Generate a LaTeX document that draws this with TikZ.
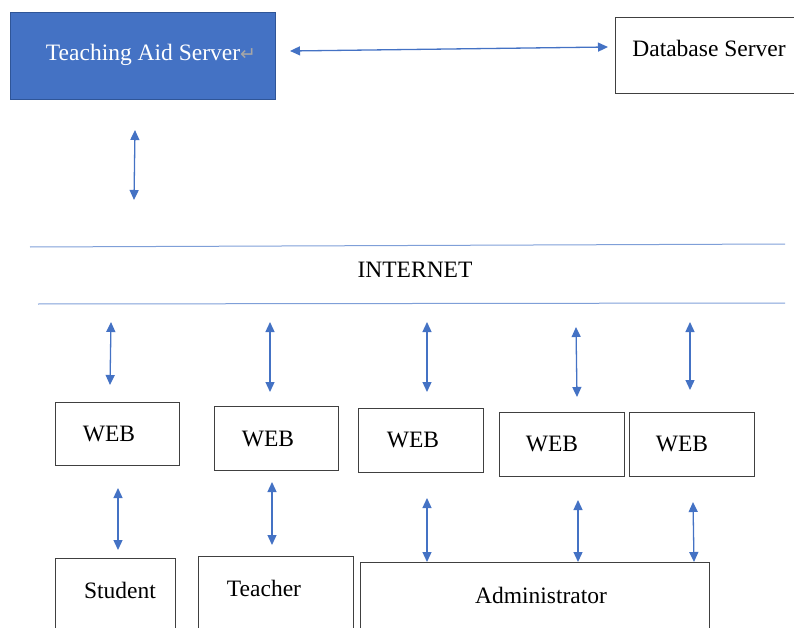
\documentclass[tikz,border=0pt]{standalone}
\usepackage{fontspec}
\usepackage{xcolor}
\usetikzlibrary{arrows.meta}
\setmainfont{Liberation Serif}
\newfontfamily\timesfont{Liberation Serif}
\newfontfamily\symfont{DejaVu Sans}

\definecolor{wordblue}{HTML}{4472C4}
\definecolor{wordedge}{HTML}{2F5597}
\definecolor{netline}{HTML}{7F9FD8}
\definecolor{boxedge}{HTML}{404040}

\tikzset{
  box/.style={draw=boxedge, line width=1.3pt, rectangle, inner sep=0pt},
  lbl/.style={font=\timesfont\fontsize{23.5}{28}\selectfont, inner sep=0pt},
  dbl/.style={{Triangle[length=10pt,width=9pt]}-{Triangle[length=10pt,width=9pt]}, draw=wordblue, line width=1.3pt},
}

\begin{document}
\begin{tikzpicture}[x=1pt,y=-1pt]
	\useasboundingbox (0,0) rectangle (794,628);
	\clip (0,0) rectangle (794,628);
	%% ========================================================
	% servers
	\node[box, draw=wordedge, fill=wordblue, anchor=north west, minimum width=265pt, minimum height=87pt] (tas) at (10,12) {};
	\node[lbl, text=white] (tastext) at (151,55) {Teaching Aid Server{\symfont\fontsize{19}{20}\selectfont\color{gray!70}↵}};
	\node[box, anchor=north west, minimum width=190pt, minimum height=76pt] (db) at (615,17) {};
	\node[lbl] (dbtext) at (709,48) {Database Server};

	\coordinate (s1) at (290,51);
	\coordinate (s2) at (608,47);
	\draw[dbl] (s1) -- (s2);
	\coordinate (s3) at (135,130);
	\coordinate (s4) at (134,200);
	\draw[dbl] (s3) -- (s4);
	%% ========================================================
	% internet
	\coordinate (n1) at (30,247);
	\coordinate (n2) at (785,244);
	\coordinate (n3) at (38,304);
	\coordinate (n4) at (785,303);
	\draw[netline, line width=1pt] (n1) -- (n2);
	\draw[netline, line width=1pt] (n3) -- (n4);
	\node[lbl] (net) at (415,270) {INTERNET};
	%% ========================================================
	% web clients
	\node[box, anchor=north west, minimum width=124pt, minimum height=63pt] (web1) at (55,402) {};
	\node[box, anchor=north west, minimum width=124pt, minimum height=64pt] (web2) at (214,406) {};
	\node[box, anchor=north west, minimum width=125pt, minimum height=64pt] (web3) at (358,408) {};
	\node[box, anchor=north west, minimum width=125pt, minimum height=64pt] (web4) at (499,412) {};
	\node[box, anchor=north west, minimum width=125pt, minimum height=64pt] (web5) at (629,412) {};
	\node[lbl] (webtext1) at (109,434) {WEB};
	\node[lbl] (webtext2) at (268,439) {WEB};
	\node[lbl] (webtext3) at (413,440) {WEB};
	\node[lbl] (webtext4) at (552,444) {WEB};
	\node[lbl] (webtext5) at (682,444) {WEB};

	\coordinate (u1) at (111,322); \coordinate (v1) at (110,385);
	\coordinate (u2) at (270,322); \coordinate (v2) at (270,392);
	\coordinate (u3) at (427,322); \coordinate (v3) at (427,392);
	\coordinate (u4) at (576,327); \coordinate (v4) at (577,397);
	\coordinate (u5) at (690,322); \coordinate (v5) at (690,390);
	\draw[dbl] (u1) -- (v1);
	\draw[dbl] (u2) -- (v2);
	\draw[dbl] (u3) -- (v3);
	\draw[dbl] (u4) -- (v4);
	\draw[dbl] (u5) -- (v5);
	%% ========================================================
	% users
	\node[box, anchor=north west, minimum width=120pt, minimum height=90pt] (student) at (55,558) {};
	\node[box, anchor=north west, minimum width=155pt, minimum height=90pt] (teacher) at (198,556) {};
	\node[box, anchor=north west, minimum width=349pt, minimum height=90pt] (admin) at (360,562) {};
	\node[lbl] (studenttext) at (120,590) {Student};
	\node[lbl] (teachertext) at (264,588) {Teacher};
	\node[lbl] (admintext) at (541,595) {Administrator};

	\coordinate (p1) at (118,488); \coordinate (q1) at (118,550);
	\coordinate (p2) at (272,482); \coordinate (q2) at (272,545);
	\coordinate (p3) at (427,498); \coordinate (q3) at (427,562);
	\coordinate (p4) at (578,500); \coordinate (q4) at (578,562);
	\coordinate (p5) at (693,502); \coordinate (q5) at (694,562);
	\draw[dbl] (p1) -- (q1);
	\draw[dbl] (p2) -- (q2);
	\draw[dbl] (p3) -- (q3);
	\draw[dbl] (p4) -- (q4);
	\draw[dbl] (p5) -- (q5);
	%% ========================================================
\end{tikzpicture}
\end{document}
